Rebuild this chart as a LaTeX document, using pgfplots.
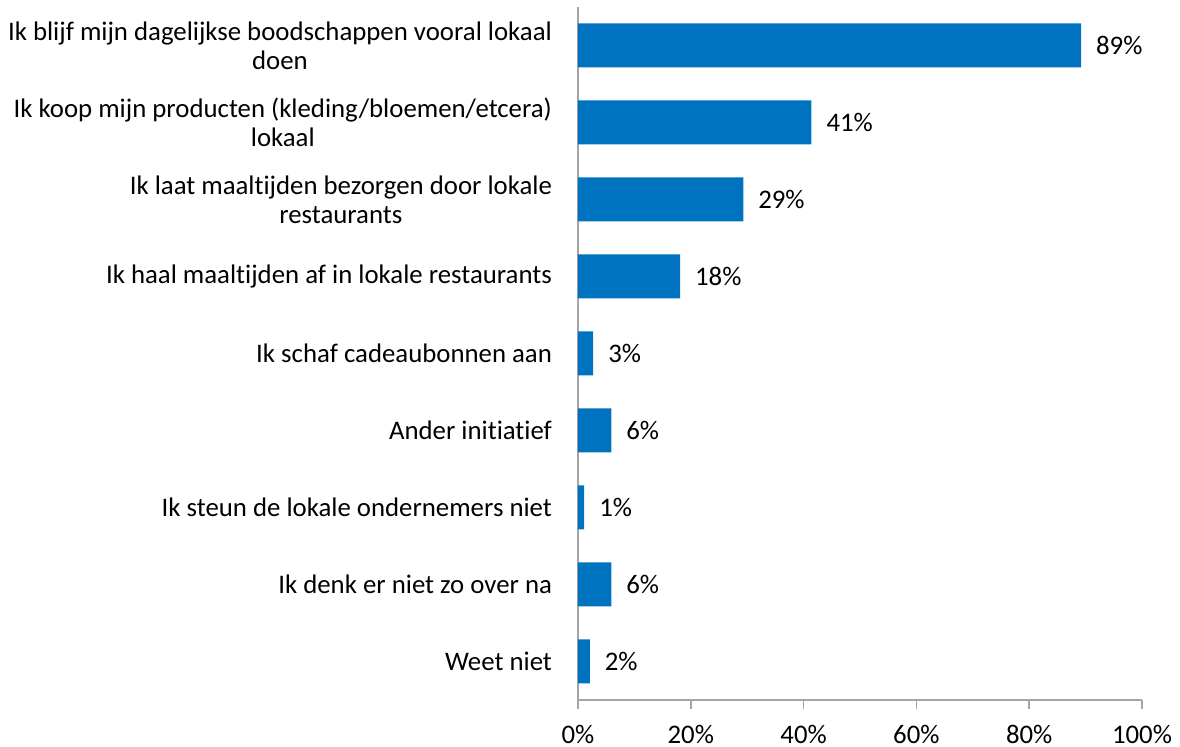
\documentclass[border=0pt]{standalone}
\usepackage{pgfplots}
\usepackage{pgfplotstable}
\pgfplotsset{compat=1.18}
\usepackage{fontspec}
\setmainfont[RawFeature={-liga;-dlig;-calt;-clig}]{Carlito}
\definecolor{barblue}{RGB}{0,115,192}
\definecolor{axisgray}{RGB}{165,165,165}
\pgfplotstableread{
i v l
0 2.1 2\%
1 5.9 6\%
2 1.1 1\%
3 5.9 6\%
4 2.7 3\%
5 18.1 18\%
6 29.3 29\%
7 41.4 41\%
8 89.2 89\%
}\datatable
\begin{document}
\begin{tikzpicture}
\begin{axis}[
  xbar,
  scale only axis,
  width=282pt, height=346.5pt,
  xmin=0, xmax=100, ymin=-0.5, ymax=8.5,
  axis x line*=bottom, axis y line*=left,
  axis line style={draw=axisgray, line width=0.8pt},
  xtick={0,20,40,60,80,100},
  xticklabels={0\%,20\%,40\%,60\%,80\%,100\%},
  ytick={0,...,8},
  yticklabels={
    {Weet niet},
    {Ik denk er niet zo over na},
    {Ik steun de lokale ondernemers niet},
    {Ander ini\kern0pt t\kern0pt iat\kern0pt ief},
    {Ik schaf cadeaubonnen aan},
    {Ik haal maaltijden af in lokale restaurants},
    {Ik laat maaltijden bezorgen door lokale\\restaurants},
    {Ik koop mijn producten (kleding/bloemen/etcera)\\lokaal},
    {Ik blijf mijn dagelijkse boodschappen vooral lokaal\\doen}
  },
  tick label style={font=\fontsize{13.4}{14.5}\selectfont, text=black},
  yticklabel style={align=center, xshift=-5pt},
  xticklabel style={yshift=-4.5pt},
  tick align=outside,
  x tick style={draw=axisgray, line width=0.8pt},
  major tick length=4.5pt,
  y tick style={draw=none},
  bar width=22pt,
  nodes near coords,
  point meta=explicit symbolic,
  nodes near coords style={anchor=west, xshift=4pt, font=\fontsize{13.4}{14.5}\selectfont, text=black},
  clip=false,
]
\addplot[fill=barblue, draw=none] table[x=v, y=i, meta=l] {\datatable};
\end{axis}
\pgfresetboundingbox
\path[use as bounding box] ([shift={(-289pt,-23.5pt)}]current axis.south west) rectangle ([shift={(19pt,3.5pt)}]current axis.north east);
\end{tikzpicture}
\end{document}
